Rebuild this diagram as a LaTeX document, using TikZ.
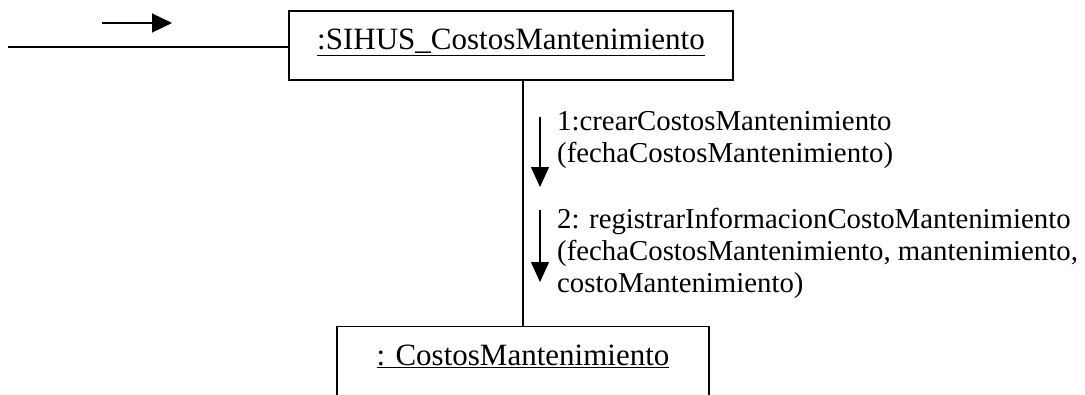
\documentclass[tikz,border=0pt]{standalone}
\usepackage{fontspec}
\setmainfont{Liberation Serif}
\usetikzlibrary{arrows.meta,positioning}

\begin{document}
\begin{tikzpicture}
    [x=1pt,y=-1pt,
    object/.style={draw,line width=1.2pt,rectangle,inner sep=0pt,
        minimum height=69pt,text height=22pt,text depth=14pt,
        font=\fontsize{31}{36}\selectfont},
    link/.style={line width=1.2pt},
    message/.style={line width=1.2pt,-{Triangle[length=20pt,width=18pt]}},
    msglabel/.style={anchor=north west,align=left,inner sep=0pt,
        font=\fontsize{28.8}{32}\selectfont}]
    \useasboundingbox (0,0) rectangle (1085,394);
    \node [object,minimum width=444pt] (sihus) at (511,45.5) {\underline{:SIHUS\_CostosMantenimiento}};
    \node [object,minimum width=372pt] (costos) at (523,361) {\underline{: CostosMantenimiento}};
    % enlaces
    \coordinate (in) at (8,47);
    \draw [link] (in) -- (in -| sihus.west);
    \draw [link] (sihus.south -| costos.north) -- (costos.north);
    % flecha de entrada
    \coordinate (e1) at (102,23);
    \coordinate (e2) at (172,23);
    \draw [line width=1.2pt,-{Triangle[length=20pt,width=19pt]}] (e1) -- (e2);
    % mensajes
    \coordinate (a1) at (540,117);
    \coordinate (b1) at (540,187);
    \coordinate (a2) at (540,210);
    \coordinate (b2) at (540,282);
    \draw [message] (a1) -- (b1);
    \draw [message] (a2) -- (b2);
    \node [msglabel] (m1) at (557,111) {1:crearCostosMantenimiento\\(fechaCostosMantenimiento)};
    \node [msglabel] (m2) at (557,208) {2: registrarInformacionCostoMantenimiento\\(fechaCostosMantenimiento, mantenimiento,\\costoMantenimiento)};
\end{tikzpicture}
\end{document}
